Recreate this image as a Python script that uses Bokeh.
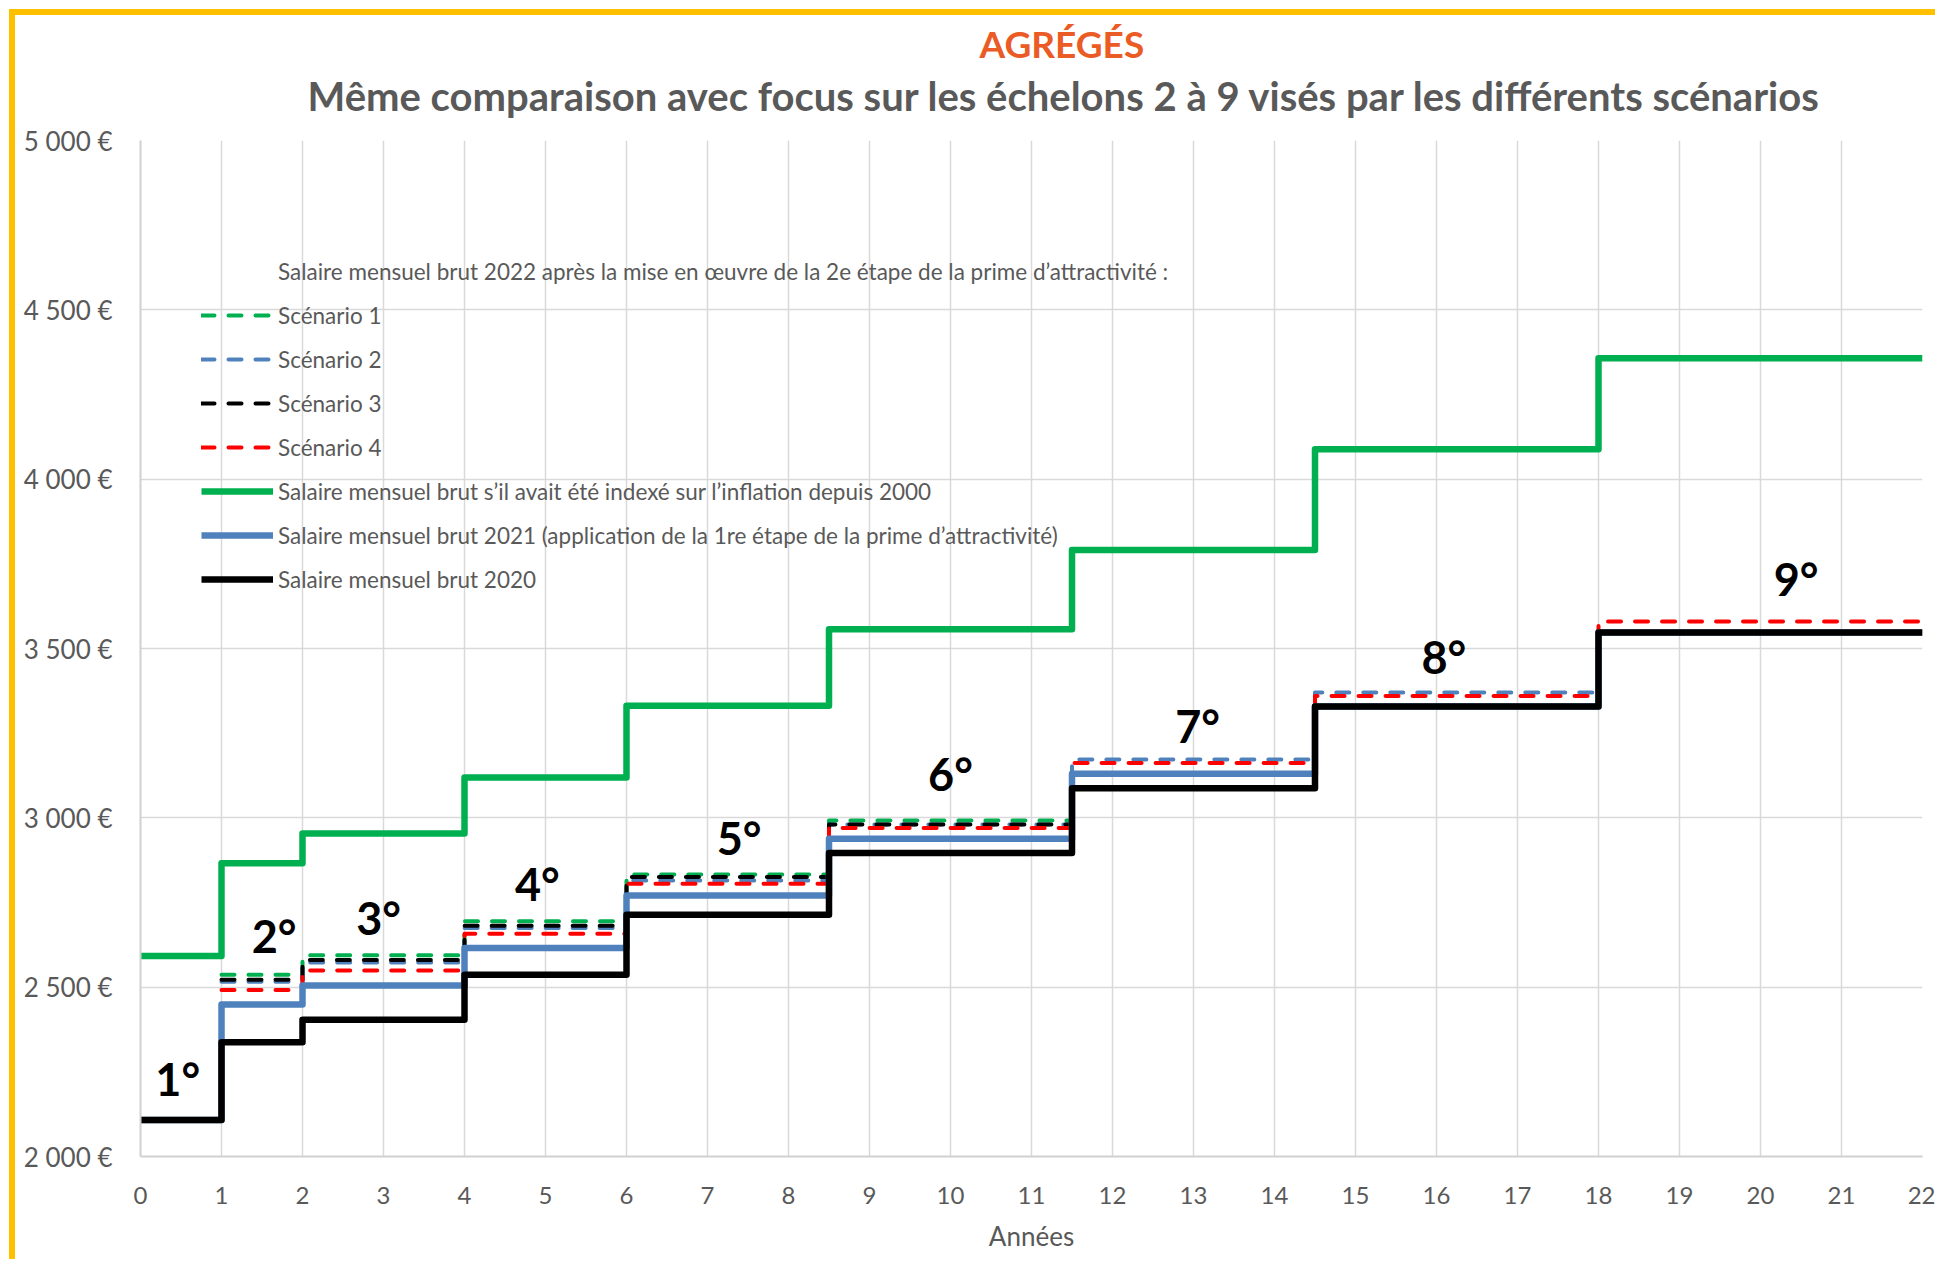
import math
from bokeh.plotting import figure
from bokeh.models import Range1d, FixedTicker, Legend, LegendItem, Title
from bokeh.core.properties import value
from bokeh.embed import file_html
from bokeh.resources import INLINE

nan = float("nan")

# ---- data -------------------------------------------------------------
echelons = ["1°", "2°", "3°", "4°", "5°", "6°", "7°", "8°", "9°"]
echelon_start = [0, 1, 2, 4, 6, 8.5, 11.5, 14.5, 18]
x_end = 22

salaire_2020 = [2108, 2337, 2404, 2537, 2714, 2896, 3087, 3329, 3547]
salaire_2021 = [2108, 2449, 2505, 2616, 2771, 2938, 3130, 3329, 3547]
salaire_inflation = [2592, 2866, 2954, 3119, 3331, 3557, 3791, 4088, 4357]
scenario_1 = [nan, 2537, 2594, 2695, 2833, 2992, nan, nan, nan]
scenario_2 = [nan, 2516, 2573, 2675, 2815, 2980, 3172, 3370, nan]
scenario_3 = [nan, 2522, 2580, 2681, 2825, 2980, nan, nan, nan]
scenario_4 = [nan, 2492, 2549, 2658, 2805, 2970, 3162, 3360, 3580]

# positions of the echelon labels (data coordinates)
label_x = [0.46, 1.65, 2.94, 4.90, 7.39, 10.0, 13.05, 16.09, 20.44]
label_y = [2230, 2650, 2705, 2805, 2940, 3128, 3270, 3474, 3706]

y_ticks = [2000, 2500, 3000, 3500, 4000, 4500, 5000]
y_tick_labels = ["2 000 €", "2 500 €", "3 000 €", "3 500 €", "4 000 €", "4 500 €", "5 000 €"]
x_ticks = list(range(0, 23))

legend_header = "Salaire mensuel brut 2022 après la mise en œuvre de la 2e étape de la prime d’attractivité :"
legend_labels = ["Scénario 1", "Scénario 2", "Scénario 3", "Scénario 4",
                 "Salaire mensuel brut s’il avait été indexé sur l’inflation depuis 2000",
                 "Salaire mensuel brut 2021 (application de la 1re étape de la prime d’attractivité)",
                 "Salaire mensuel brut 2020"]

title_text = "AGRÉGÉS"
subtitle_text = "Même comparaison avec focus sur les échelons 2 à 9 visés par les différents scénarios"
x_label_text = "Années"

# ---- helpers ---------------------------------------------------------
echelon_end = echelon_start[1:] + [x_end]


def step_path(vals):
    xs, ys = [], []
    prev = False
    for s, e, v in zip(echelon_start, echelon_end, vals):
        if v is None or (isinstance(v, float) and math.isnan(v)):
            if prev:
                xs.append(nan)
                ys.append(nan)
            prev = False
            continue
        xs += [s, e]
        ys += [v, v]
        prev = True
    return xs, ys


FONT = "Lato"
GRAY = "#595959"

p = figure(width=1926, height=1250, x_range=Range1d(0, 22), y_range=Range1d(2000, 5000),
           output_backend="svg", toolbar_location=None,
           min_border_left=125, min_border_right=19, min_border_top=125, min_border_bottom=109)
p.styles = {"border-top": "6px solid #FFC000", "border-left": "6px solid #FFC000",
            "margin-left": "9px", "margin-top": "9px"}
p.title.visible = False
p.outline_line_color = None
p.background_fill_color = "white"
p.border_fill_color = "white"

# axes
p.xaxis.ticker = FixedTicker(ticks=x_ticks)
p.yaxis.ticker = FixedTicker(ticks=y_ticks)
p.yaxis.major_label_overrides = {t: l for t, l in zip(y_ticks, y_tick_labels)}
for ax in (p.xaxis, p.yaxis):
    ax.axis_line_color = "#D0D0D0"
    ax.axis_line_width = 2
    ax.major_tick_line_color = None
    ax.minor_tick_line_color = None
    ax.major_label_text_color = GRAY
    ax.major_label_text_font = FONT
p.xaxis.major_label_text_font_size = "24px"
p.yaxis.major_label_text_font_size = "26px"
p.xaxis.major_label_standoff = 24
p.yaxis.major_label_standoff = 22
p.xaxis.axis_label = x_label_text
p.xaxis.axis_label_text_font = FONT
p.xaxis.axis_label_text_font_style = "normal"
p.xaxis.axis_label_text_font_size = "26px"
p.xaxis.axis_label_text_color = GRAY
p.xaxis.axis_label_standoff = 13

p.xgrid.ticker = FixedTicker(ticks=x_ticks)
p.ygrid.ticker = FixedTicker(ticks=y_ticks)
p.grid.grid_line_color = "#D9D9D9"
p.grid.grid_line_width = 1.5

# ---- series ----------------------------------------------------------
header_r = p.line(x=[], y=[], line_color="white", line_alpha=0)

dash = "13 14"
dw = 4
sc_colors = ["#00B050", "#4F81BD", "#000000", "#FF0000"]
sc_renderers = []
for vals, col in zip([scenario_1, scenario_2, scenario_3, scenario_4], sc_colors):
    xs, ys = step_path(vals)
    r = p.line(x=xs, y=ys, line_color=col, line_width=dw, line_dash=dash, line_cap="round", line_join="round")
    sc_renderers.append(r)

sw = 6.5
xs, ys = step_path(salaire_inflation)
r_inf = p.line(x=xs, y=ys, line_color="#00B050", line_width=sw, line_join="round")
xs, ys = step_path(salaire_2021)
r_21 = p.line(x=xs, y=ys, line_color="#4F81BD", line_width=sw, line_join="round")
xs, ys = step_path(salaire_2020)
r_20 = p.line(x=xs, y=ys, line_color="#000000", line_width=sw, line_join="round")

p.text(x=label_x, y=label_y, text=echelons, text_font=value(FONT), text_font_style="bold",
       text_font_size="45px", text_align="center", text_baseline="middle", text_color="black")

# ---- legend ----------------------------------------------------------
items = [LegendItem(label=legend_header, renderers=[header_r])]
for lab, r in zip(legend_labels, sc_renderers + [r_inf, r_21, r_20]):
    items.append(LegendItem(label=lab, renderers=[r]))
legend = Legend(items=items, location=(61, 555), padding=0, margin=0, spacing=0,
                glyph_width=72, glyph_height=44, label_height=44, label_standoff=5,
                label_text_font=FONT, label_text_font_size="22.5px", label_text_color=GRAY,
                border_line_alpha=0, background_fill_alpha=0)
p.add_layout(legend, "center")

# ---- titles ----------------------------------------------------------
p.add_layout(Title(text=subtitle_text, align="left", offset=167, standoff=41,
                   text_font=FONT, text_font_style="bold", text_font_size="40px",
                   text_color=GRAY), "above")
p.add_layout(Title(text=title_text, align="left", offset=839, standoff=-33,
                   text_font=FONT, text_font_style="bold", text_font_size="37px",
                   text_color="#EB5B25"), "above")

open("out.html", "w").write(file_html(p, INLINE))
